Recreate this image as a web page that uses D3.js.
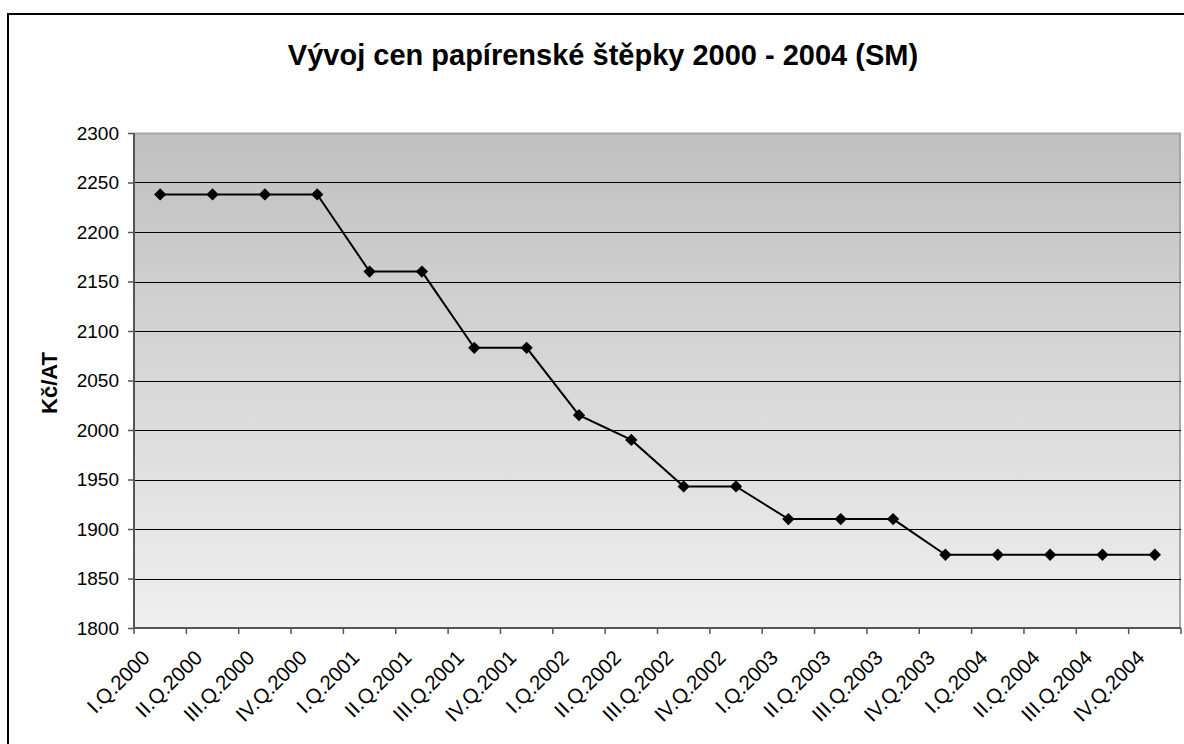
<!DOCTYPE html>
<html>
<head>
<meta charset="utf-8">
<script src="https://cdn.jsdelivr.net/npm/d3@7"></script>
<style>
    body { margin: 0; background: #fff; }
    text { font-family: "Liberation Sans", Arial, sans-serif; }
</style>
</head>
<body>
<div id="chart"></div>
<script>
// quarters + prices
var categories = ["I.Q.2000", "II.Q.2000", "III.Q.2000", "IV.Q.2000",
    "I.Q.2001", "II.Q.2001", "III.Q.2001", "IV.Q.2001",
    "I.Q.2002", "II.Q.2002", "III.Q.2002", "IV.Q.2002",
    "I.Q.2003", "II.Q.2003", "III.Q.2003", "IV.Q.2003",
    "I.Q.2004", "II.Q.2004", "III.Q.2004", "IV.Q.2004"];
var prices = [2238, 2238, 2238, 2238, 2160, 2160, 2083, 2083, 2015, 1990,
    1943, 1943, 1910, 1910, 1910, 1874, 1874, 1874, 1874, 1874];
var yTicks = [1800, 1850, 1900, 1950, 2000, 2050, 2100, 2150, 2200, 2250, 2300];

var svgWidth = 1184;
var svgHeight = 744;

var margin = { top: 133, right: 3, bottom: 116, left: 134 };
var width = svgWidth - margin.left - margin.right;   // 1047
var height = svgHeight - margin.top - margin.bottom; // 495

var svg = d3.select("#chart")
    .append("svg")
    .attr("width", svgWidth)
    .attr("height", svgHeight);

// outer frame (runs off the right/bottom edge like in the original)
svg.append("rect")
    .attr("x", 8).attr("y", 14)
    .attr("width", 1300).attr("height", 900)
    .attr("fill", "#fff")
    .attr("stroke", "#000")
    .attr("stroke-width", 2);

// background gradient of the plot area
var grad = svg.append("defs").append("linearGradient")
    .attr("id", "bg")
    .attr("x1", 0).attr("y1", 0).attr("x2", 0).attr("y2", 1);
grad.append("stop").attr("offset", "0%").attr("stop-color", "#c0c0c0");
grad.append("stop").attr("offset", "100%").attr("stop-color", "#efefef");

var chartGroup = svg.append("g")
    .attr("transform", `translate(${margin.left}, ${margin.top})`);

var xBand = d3.scaleBand()
    .domain(categories)
    .range([0, width]);

var yLinearScale = d3.scaleLinear()
    .domain([1800, 2300])
    .range([height, 0]);

chartGroup.append("rect")
    .attr("width", width)
    .attr("height", height)
    .attr("fill", "url(#bg)");

// plot border top/right
chartGroup.append("path")
    .attr("d", `M0,0.5H${width - 1}V${height}`)
    .attr("fill", "none")
    .attr("stroke", "#a6a6a6")
    .attr("stroke-width", 2);

// gridlines
chartGroup.selectAll(".grid")
    .data(yTicks.filter(t => t > 1800 && t < 2300))
    .enter()
    .append("line")
    .attr("class", "grid")
    .attr("x1", 0)
    .attr("x2", width)
    .attr("y1", d => Math.round(yLinearScale(d)) + 0.5)
    .attr("y2", d => Math.round(yLinearScale(d)) + 0.5)
    .attr("stroke", "#000")
    .attr("stroke-width", 1);

// y axis
var leftAxis = d3.axisLeft(yLinearScale)
    .tickValues(yTicks)
    .tickSize(6)
    .tickPadding(9)
    .tickFormat(d3.format("d"));

var yAxisG = chartGroup.append("g").call(leftAxis);
yAxisG.selectAll("text")
    .attr("font-size", 19)
    .attr("font-family", "Liberation Sans, Arial, sans-serif")
    .attr("fill", "#000");

// x axis: ticks sit on the category boundaries
var boundaries = d3.range(categories.length + 1).map(i => i * xBand.step());
var xAxisG = chartGroup.append("g")
    .attr("transform", `translate(0, ${height})`);
xAxisG.selectAll("line.tick")
    .data(boundaries)
    .enter()
    .append("line")
    .attr("class", "tick")
    .attr("x1", d => d).attr("x2", d => d)
    .attr("y1", 0).attr("y2", 6)
    .attr("stroke", "#555")
    .attr("stroke-width", 1.5);

xAxisG.selectAll("text")
    .data(categories)
    .enter()
    .append("text")
    .attr("transform", d => `translate(${xBand(d) + xBand.bandwidth() / 2 - 9}, 31) rotate(-45)`)
    .attr("text-anchor", "end")
    .attr("font-size", 20.5)
    .attr("fill", "#000")
    .text(d => d);

// axis lines
yAxisG.select(".domain").remove();
yAxisG.selectAll(".tick line").attr("stroke", "#555").attr("stroke-width", 1.5);
chartGroup.append("line")
    .attr("x1", 0).attr("x2", 0)
    .attr("y1", 0).attr("y2", height)
    .attr("stroke", "#555").attr("stroke-width", 2);
chartGroup.append("line")
    .attr("x1", 0).attr("x2", width)
    .attr("y1", height).attr("y2", height)
    .attr("stroke", "#555").attr("stroke-width", 2);

// price line
var line = d3.line()
    .x((d, i) => xBand(categories[i]) + xBand.bandwidth() / 2)
    .y(d => yLinearScale(d));

chartGroup.append("path")
    .datum(prices)
    .attr("d", line)
    .attr("fill", "none")
    .attr("stroke", "#000")
    .attr("stroke-width", 2);

// diamond markers
var diamond = d3.symbol().type(d3.symbolSquare).size(76);
chartGroup.selectAll(".marker")
    .data(prices)
    .enter()
    .append("path")
    .attr("class", "marker")
    .attr("d", diamond)
    .attr("transform", (d, i) => `translate(${xBand(categories[i]) + xBand.bandwidth() / 2}, ${yLinearScale(d)}) rotate(45)`)
    .attr("fill", "#000");

// title
svg.append("text")
    .attr("x", 603)
    .attr("y", 65)
    .attr("text-anchor", "middle")
    .attr("font-size", 29)
    .attr("font-weight", "bold")
    .text("Vývoj cen papírenské štěpky 2000 - 2004 (SM)");

// y axis label
svg.append("text")
    .attr("transform", "translate(57, 383) rotate(-90)")
    .attr("text-anchor", "middle")
    .attr("font-size", 22)
    .attr("font-weight", "bold")
    .text("Kč/AT");
</script>
</body>
</html>
